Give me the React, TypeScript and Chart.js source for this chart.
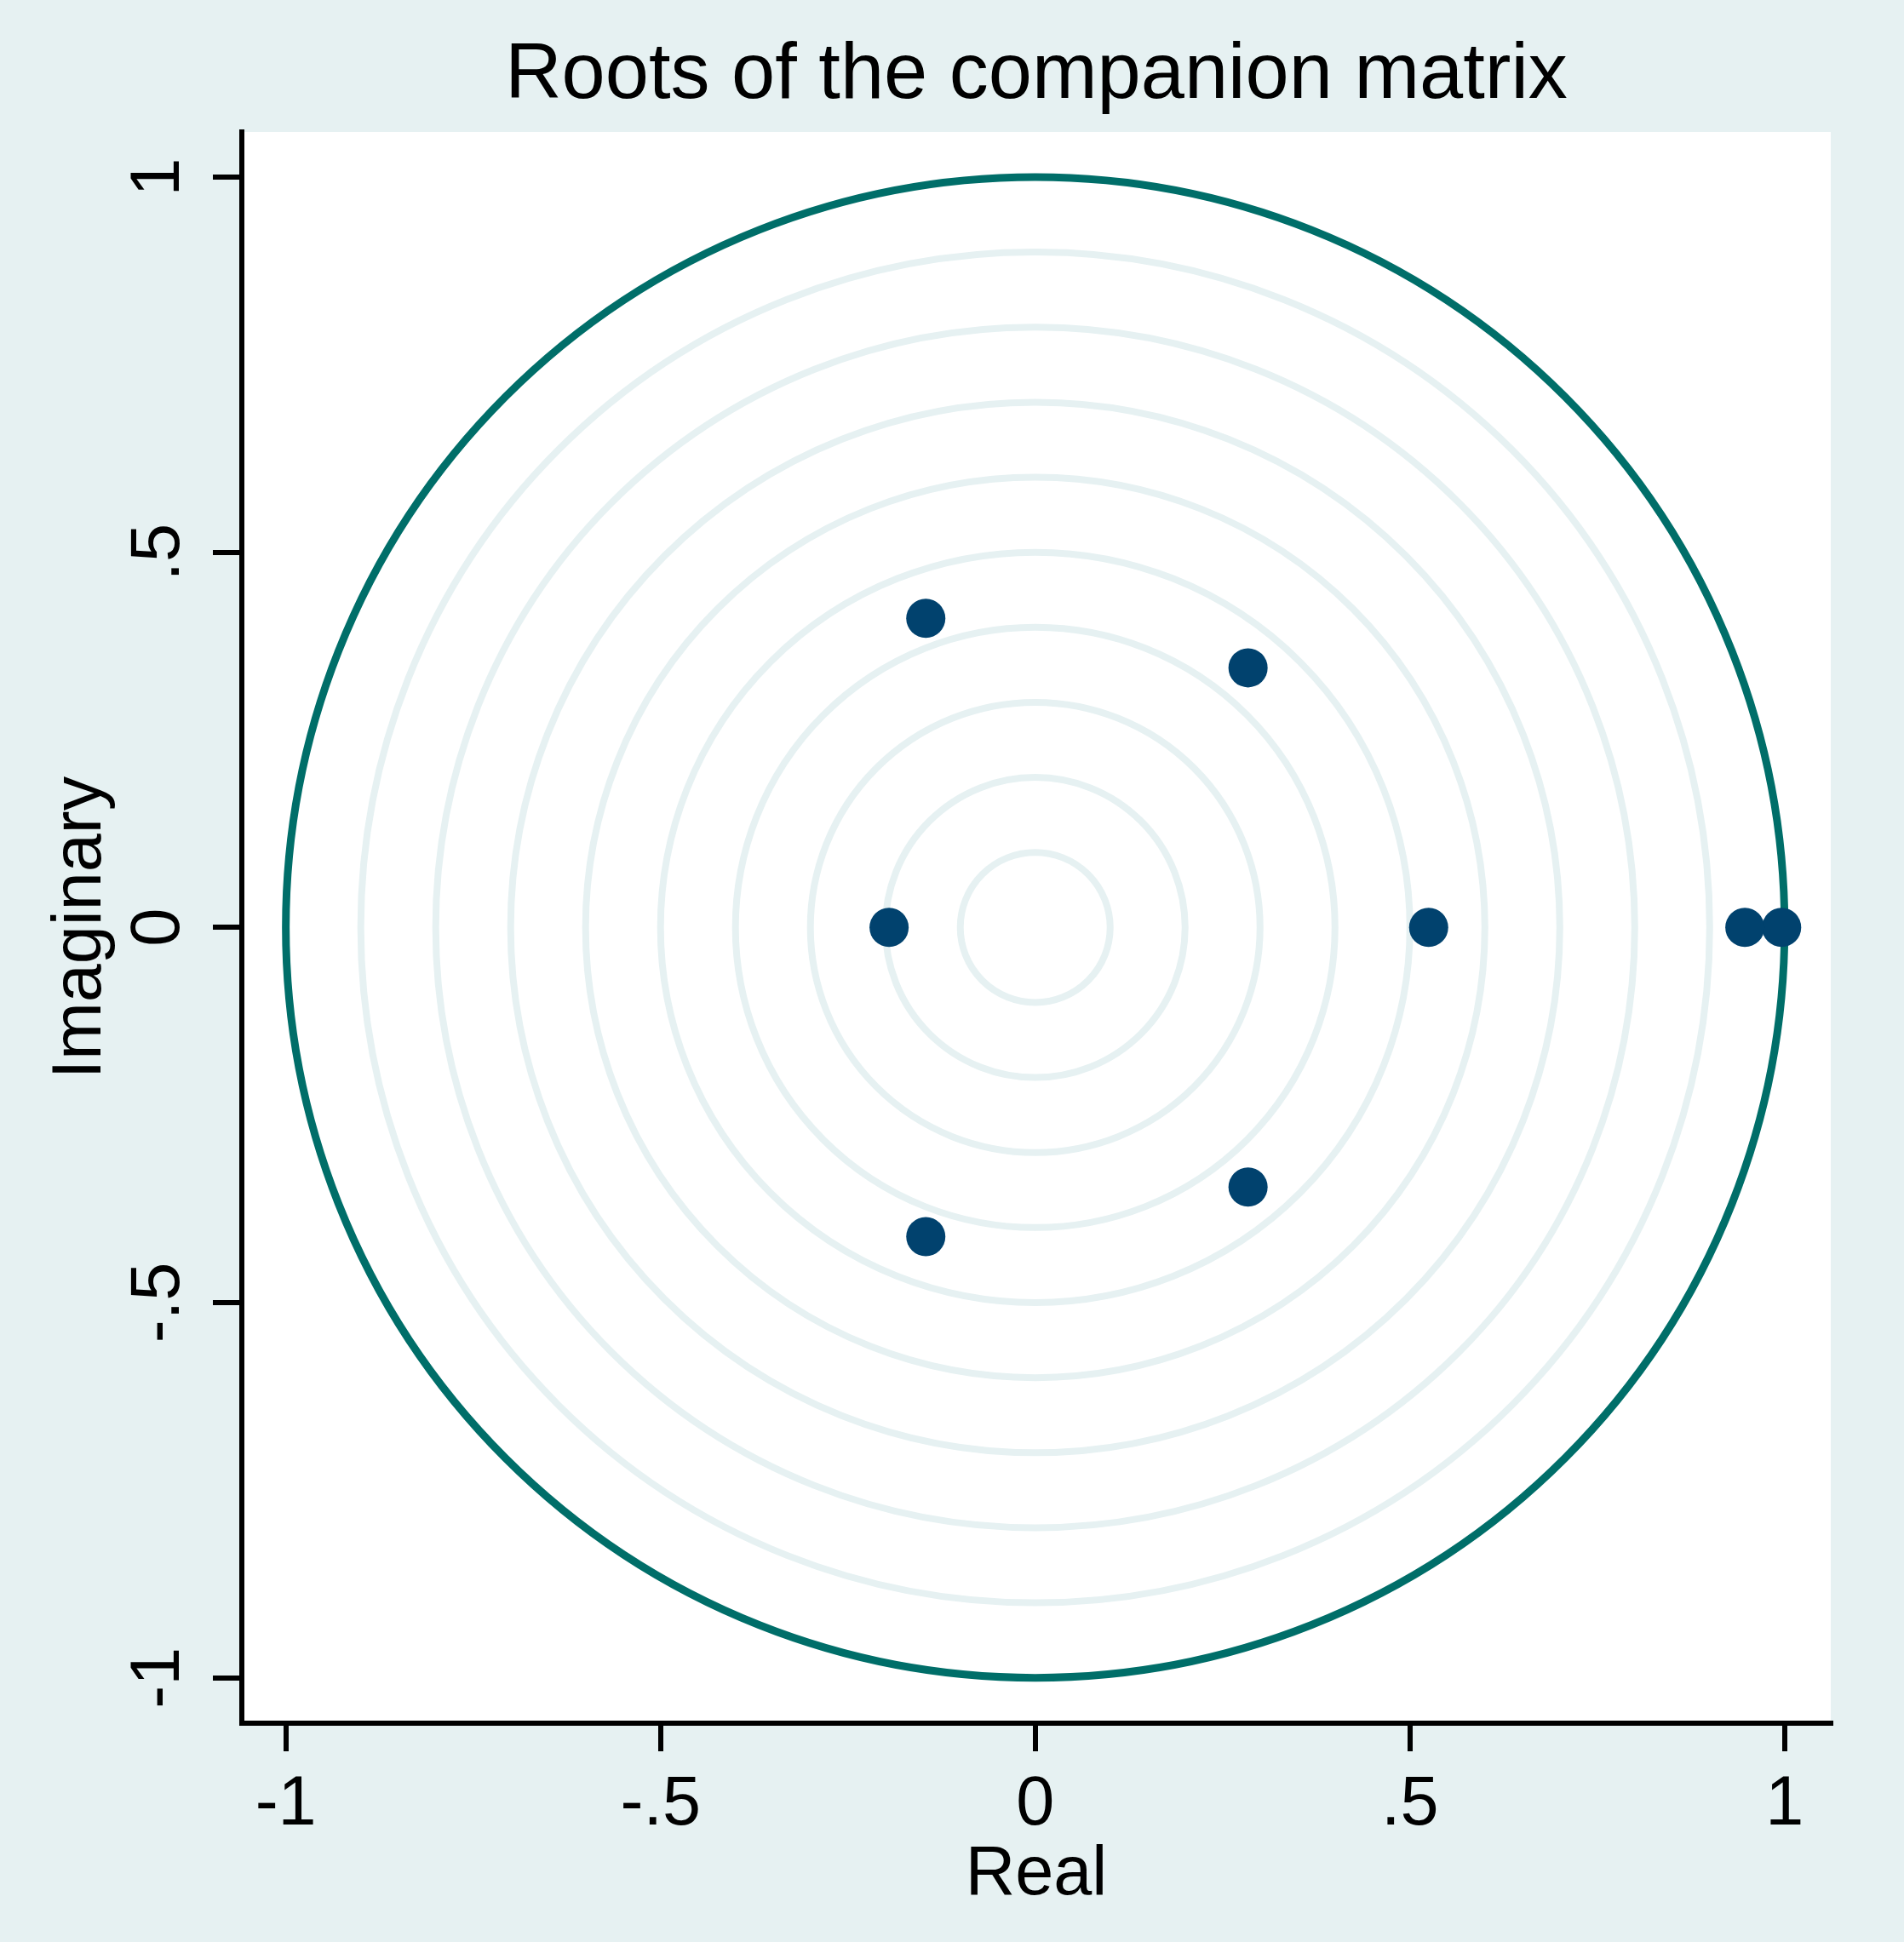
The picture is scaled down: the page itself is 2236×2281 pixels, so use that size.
import React, { useEffect, useRef } from "react";
import { Chart, registerables } from "chart.js";

Chart.register(...registerables);

// ---- Data ----
const titleText = "Roots of the companion matrix";
const xAxisTitle = "Real";
const yAxisTitle = "Imaginary";

const realParts = [0.996, 0.947, 0.525, 0.284, 0.284, -0.146, -0.146, -0.195];
const imagParts = [0, 0, 0, 0.346, -0.346, 0.412, -0.412, 0];

const tickValues = [-1, -0.5, 0, 0.5, 1];
const tickLabels = ["-1", "-.5", "0", ".5", "1"];

const gridCircleRadii = [0.1, 0.2, 0.3, 0.4, 0.5, 0.6, 0.7, 0.8, 0.9];
const unitCircleRadii = [1];

const xRange = [-1.0587, 1.0616];
const yRange = [-1.0605, 1.0601];

// ---- Styles ----
const FONT = "'Liberation Sans', Arial, Helvetica, sans-serif";
const PAGE_BG = "#E6F1F2";
const GRID_CIRCLE = "#E6F1F2";
const UNIT_CIRCLE = "#006E69";
const DOT = "#01426E";

const labelFor = (v: number) => {
  const i = tickValues.findIndex((t) => Math.abs(t - v) < 1e-9);
  return i >= 0 ? tickLabels[i] : "";
};

const circlesPlugin = {
  id: "circlesAndBg",
  beforeDraw(chart: any) {
    const { ctx, chartArea, width, height } = chart;
    ctx.save();
    ctx.fillStyle = PAGE_BG;
    ctx.fillRect(0, 0, width, height);
    ctx.fillStyle = "#FFFFFF";
    ctx.fillRect(
      chartArea.left,
      chartArea.top,
      chartArea.right - chartArea.left,
      chartArea.bottom - chartArea.top
    );
    ctx.restore();
  },
  beforeDatasetsDraw(chart: any) {
    const { ctx } = chart;
    const xs = chart.scales.x;
    const ys = chart.scales.y;
    const cx = xs.getPixelForValue(0);
    const cy = ys.getPixelForValue(0);
    const drawRing = (r: number, color: string, w: number) => {
      const rx = xs.getPixelForValue(r) - cx;
      const ry = cy - ys.getPixelForValue(r);
      ctx.beginPath();
      ctx.ellipse(cx, cy, rx, ry, 0, 0, Math.PI * 2);
      ctx.strokeStyle = color;
      ctx.lineWidth = w;
      ctx.stroke();
    };
    ctx.save();
    gridCircleRadii.forEach((r) => drawRing(r, GRID_CIRCLE, 8));
    unitCircleRadii.forEach((r) => drawRing(r, UNIT_CIRCLE, 9));
    ctx.restore();
  },
};

export default function App() {
  const canvasRef = useRef<HTMLCanvasElement | null>(null);

  useEffect(() => {
    document.body.style.margin = "0";
    document.body.style.overflow = "hidden";
    const canvas = canvasRef.current;
    if (!canvas) return;

    const points = realParts.map((re, i) => ({ x: re, y: imagParts[i] }));

    const chart = new Chart(canvas, {
      type: "scatter",
      data: {
        datasets: [
          {
            label: "Roots",
            data: points,
            pointRadius: 23,
            pointHoverRadius: 23,
            pointBackgroundColor: DOT,
            pointBorderWidth: 0,
            borderWidth: 0,
            showLine: false,
          },
        ],
      },
      options: {
        responsive: false,
        animation: false,
        devicePixelRatio: 1,
        layout: { padding: { left: 0, top: 0, right: 86, bottom: 0 } },
        plugins: {
          legend: { display: false },
          tooltip: { enabled: false },
          title: {
            display: true,
            text: titleText,
            color: "#000",
            fullSize: false,
            font: { family: FONT, size: 92, weight: "normal" },
            padding: { top: 34, bottom: 10.6 },
          },
        },
        scales: {
          x: {
            type: "linear",
            position: "bottom",
            min: xRange[0],
            max: xRange[1],
            afterBuildTicks: (s: any) => {
              s.ticks = tickValues.map((v) => ({ value: v }));
            },
            afterFit: (s: any) => {
              s.height = 257;
            },
            ticks: {
              callback: (v: any) => labelFor(Number(v)),
              color: "#000",
              font: { family: FONT, size: 81 },
              padding: 15,
              minRotation: 0,
              maxRotation: 0,
              autoSkip: false,
            },
            grid: {
              drawOnChartArea: false,
              drawTicks: true,
              tickLength: 33,
              tickWidth: 6,
              tickColor: "#000",
              lineWidth: 6,
              color: "#000",
            },
            border: { display: true, color: "#000", width: 6 },
            title: {
              display: true,
              text: xAxisTitle,
              color: "#000",
              font: { family: FONT, size: 81 },
              padding: { top: 0, bottom: 30 },
            },
          },
          y: {
            type: "linear",
            position: "left",
            min: yRange[0],
            max: yRange[1],
            afterBuildTicks: (s: any) => {
              s.ticks = tickValues.map((v) => ({ value: v }));
            },
            afterFit: (s: any) => {
              s.width = 284;
            },
            ticks: {
              callback: (v: any) => labelFor(Number(v)),
              color: "#000",
              font: { family: FONT, size: 81 },
              padding: 15,
              minRotation: 90,
              maxRotation: 90,
              crossAlign: "center",
              autoSkip: false,
            },
            grid: {
              drawOnChartArea: false,
              drawTicks: true,
              tickLength: 34,
              tickWidth: 6,
              tickColor: "#000",
              lineWidth: 6,
              color: "#000",
            },
            border: { display: true, color: "#000", width: 6 },
            title: {
              display: true,
              text: yAxisTitle,
              color: "#000",
              font: { family: FONT, size: 81 },
              padding: { top: 47, bottom: 0 },
            },
          },
        },
      } as any,
      plugins: [circlesPlugin],
    });

    return () => {
      chart.destroy();
    };
  }, []);

  return (
    <canvas
      ref={canvasRef}
      width={2236}
      height={2281}
      style={{ display: "block", width: "2236px", height: "2281px" }}
    />
  );
}
